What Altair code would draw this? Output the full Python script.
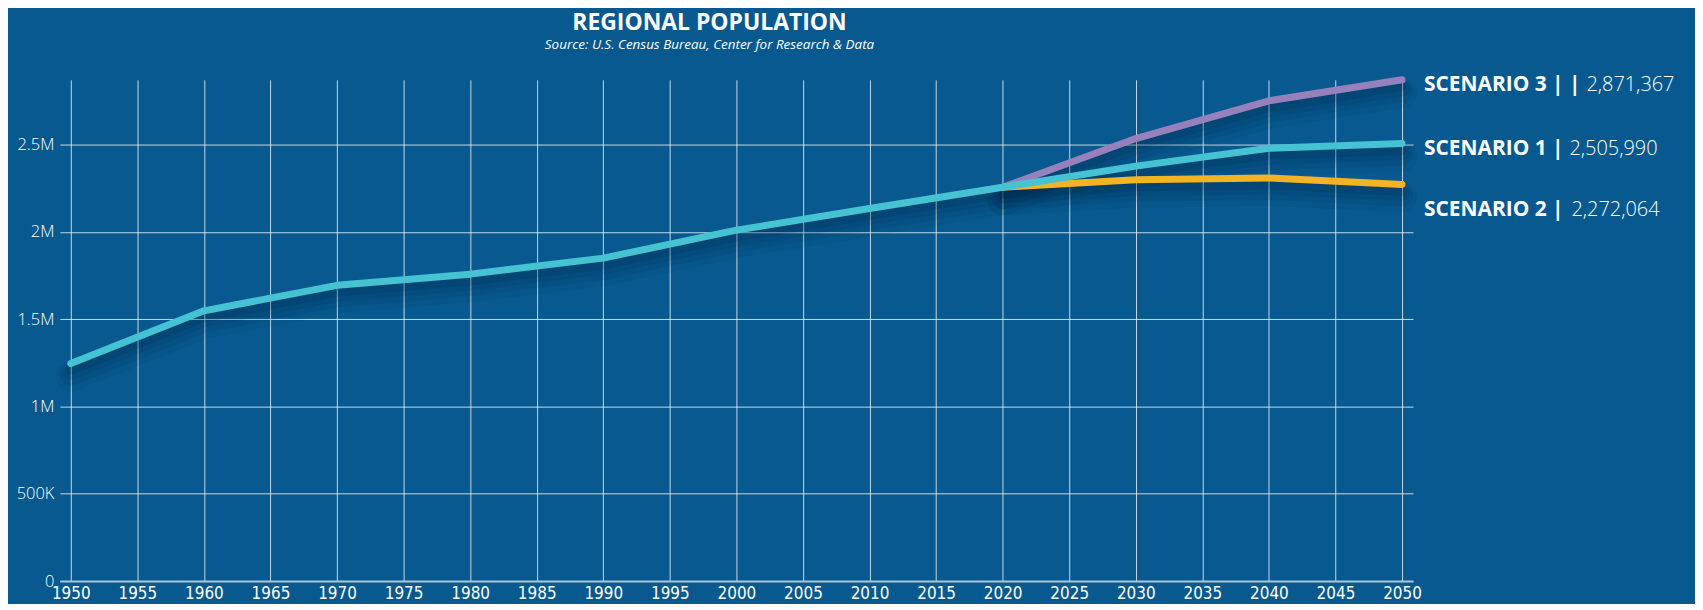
import altair as alt
import pandas as pd

# ---- data ----
history_years = [1950, 1960, 1970, 1980, 1990, 2000, 2010, 2020]
history_pop = [1246000, 1548000, 1694000, 1758000, 1850000, 2010000, 2134000, 2256000]

future_years = [2020, 2030, 2040, 2050]
scenario1 = [2256000, 2377000, 2479000, 2505990]
scenario2 = [2256000, 2299000, 2309000, 2272064]
scenario3 = [2256000, 2535000, 2751000, 2871367]

series_names = ["Scenario 3", "Scenario 2", "Scenario 1"]  # draw order
series_colors = ["#9781BC", "#F3B323", "#46C3D3"]
label_bold = ["SCENARIO 3 | |", "SCENARIO 2 |", "SCENARIO 1 |"]
label_value = ["2,871,367", "2,272,064", "2,505,990"]
label_y = [2840000, 2125000, 2474000]
value_dx = [185, 170, 168]

y_ticks = [0, 500000, 1000000, 1500000, 2000000, 2500000]
x_ticks = list(range(1950, 2051, 5))

rows = []
for y, v in zip(history_years, history_pop):
    rows.append({"series": "Scenario 1", "year": y, "pop": v})
for y, v in zip(future_years[1:], scenario1[1:]):
    rows.append({"series": "Scenario 1", "year": y, "pop": v})
for y, v in zip(future_years, scenario2):
    rows.append({"series": "Scenario 2", "year": y, "pop": v})
for y, v in zip(future_years, scenario3):
    rows.append({"series": "Scenario 3", "year": y, "pop": v})
df = pd.DataFrame(rows)

labels = pd.DataFrame({
    "series": series_names,
    "year": [2050] * 3,
    "bold": label_bold,
    "value": label_value,
    "ly": label_y,
})

x_scale = alt.Scale(domain=[1950, 2050], padding=11, nice=False, zero=False)
y_scale = alt.Scale(domain=[0, 2871367], nice=False)

x_enc = alt.X("year:Q", scale=x_scale,
              axis=alt.Axis(values=x_ticks, format="d", title=None, grid=True,
                            ticks=False, labelPadding=5, labelFontSize=17,
                            labelFont="DejaVu Sans Condensed", labelColor="#ffffff",
                            domainColor="#a9c6dc", domainWidth=2,
                            gridColor="#e6eef5", gridOpacity=0.85, gridWidth=1,
                            labelFlush=False))
y_enc = alt.Y("pop:Q", scale=y_scale,
              axis=alt.Axis(values=y_ticks, title=None, grid=True, ticks=False,
                            domain=False, labelPadding=6, labelFontSize=16.5,
                            labelFont="Open Sans", labelFontWeight=300,
                            labelColor="#ffffff",
                            gridColor="#e6eef5", gridOpacity=0.85, gridWidth=1,
                            labelExpr="datum.value == 0 ? '0' : (datum.value >= 1000000 ? format(datum.value / 1000000, '~g') + 'M' : format(datum.value / 1000, '~g') + 'K')"))

layers = []
# soft drop shadows under every line
shadow_styles = [(30, 0.05, 13), (22, 0.07, 11), (15, 0.09, 9), (9, 0.12, 7)]
for name in series_names:
    sub = alt.Chart(df).transform_filter(alt.datum.series == name)
    for w, op, off in shadow_styles:
        layers.append(sub.mark_line(color="#00203f", strokeWidth=w, opacity=op,
                                    yOffset=off, strokeCap="round", strokeJoin="round")
                      .encode(x=x_enc, y=y_enc))
# lines
for name, col in zip(series_names, series_colors):
    sub = alt.Chart(df).transform_filter(alt.datum.series == name)
    layers.append(sub.mark_line(color=col, strokeWidth=7, strokeCap="round",
                                strokeJoin="round")
                  .encode(x=x_enc, y=y_enc))
# end labels
for i, name in enumerate(series_names):
    lab = alt.Chart(labels).transform_filter(alt.datum.series == name)
    layers.append(lab.mark_text(align="left", baseline="middle", dx=22,
                                font="Open Sans", fontWeight="bold", fontSize=21,
                                color="#ffffff")
                  .encode(x=alt.X("year:Q", scale=x_scale),
                          y=alt.Y("ly:Q", scale=y_scale), text="bold:N"))
    layers.append(lab.mark_text(align="left", baseline="middle", dx=value_dx[i],
                                font="Open Sans", fontWeight=300, fontSize=20,
                                color="#ffffff")
                  .encode(x=alt.X("year:Q", scale=x_scale),
                          y=alt.Y("ly:Q", scale=y_scale), text="value:N"))

chart = alt.layer(*layers).properties(
    width=1358,
    height=503,
    autosize=alt.AutoSizeParams(type="none"),
    padding={"left": 52, "top": 71, "right": 283, "bottom": 22},
    title=alt.TitleParams(
        text="REGIONAL POPULATION",
        subtitle="Source: U.S. Census Bureau, Center for Research & Data",
        anchor="middle", dx=-27, offset=23,
        font="Open Sans", fontSize=23, fontWeight="bold", color="#ffffff",
        subtitleFont="Open Sans", subtitleFontSize=13.5, subtitleFontStyle="italic",
        subtitleColor="#ffffff", subtitlePadding=3,
    ),
).configure(background="#07598f").configure_view(stroke=None)

chart.save("out.html", embed_options={"renderer": "svg", "actions": False})
